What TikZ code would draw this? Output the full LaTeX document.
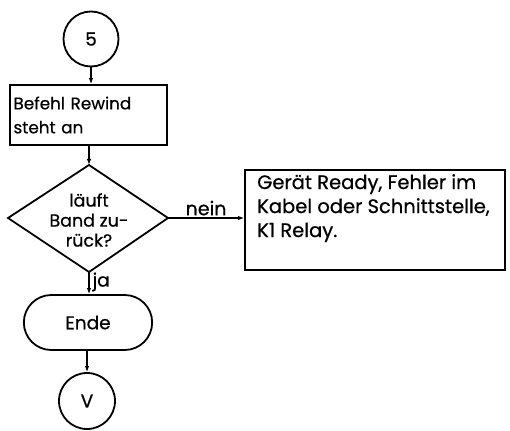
\documentclass[tikz,border=0pt]{standalone}
\usepackage{fontspec}
\setmainfont{Poppins}[FakeBold=0.6]
\usetikzlibrary{arrows.meta,shapes.geometric,shapes.misc}
\begin{document}
\begin{tikzpicture}[x=1pt,y=-1pt,
  every node/.style={font=\fontsize{18.5}{22}\selectfont},
  shp/.style={draw,line width=1.8pt},
  arr/.style={line width=1.2pt,-{Latex[length=6pt,width=4.5pt]}}]
\useasboundingbox (0,0) rectangle (510,430);
\node[shp,circle,minimum size=55pt,inner sep=0pt] (c5) at (91,39) {5};
\node[shp,rectangle,minimum width=157pt,minimum height=60pt,align=left,text width=150pt,inner sep=3pt,font=\fontsize{16.8}{24}\selectfont] (b1) at (88.5,115) {Befehl Rewind\\steht an};
\coordinate (dt) at (89,165);
\coordinate (dl) at (8,218);
\coordinate (dr) at (168,218);
\coordinate (db) at (89,272);
\draw[shp,line join=miter] (dt) -- (dr) -- (db) -- (dl) -- cycle;
\node[align=center,font=\fontsize{17.5}{20}\selectfont] (dtext) at (89,220) {läuft\\Band zu-\\rück?};
\node[shp,rectangle,minimum width=260pt,minimum height=100pt] (b2) at (375,220) {};
\node[anchor=north west,align=left,inner sep=0pt,font=\fontsize{19.5}{24}\selectfont] (b2t) at (257,174) {Gerät Ready, Fehler im\\Kabel oder Schnittstelle,\\K1 Relay.};
\node[shp,rounded rectangle,minimum width=135pt,minimum height=55pt] (ende) at (88,322.5) {Ende};
\node[shp,circle,minimum size=56pt,inner sep=0pt] (cv) at (87,401) {V};
\draw[arr] (c5) -- (c5 |- b1.north);
\draw[arr] (b1.south -| dt) -- (dt);
\draw[arr] (dr) -- node[above,inner sep=2pt,font=\fontsize{19}{22}\selectfont] (nein) {nein} (b2.west |- dr);
\draw[arr] (db) -- node[right,pos=0.45,inner sep=3pt] (ja) {ja} (db |- ende.north);
\draw[arr] (ende.south -| cv) -- (cv);
\end{tikzpicture}
\end{document}
